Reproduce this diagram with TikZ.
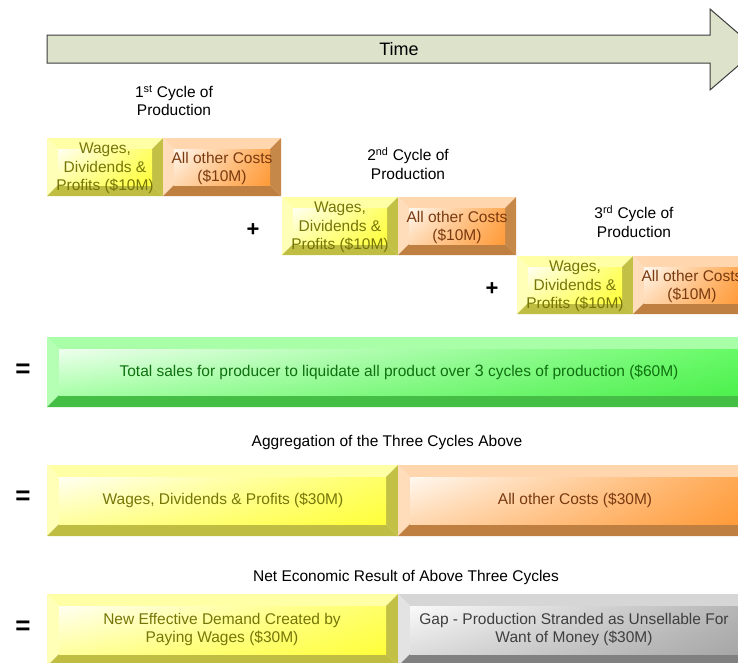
\documentclass[tikz,border=0pt]{standalone}
\usepackage{fontspec}
\setmainfont{Liberation Sans}
\usetikzlibrary{shadings}
\begin{document}
% bevelled block: x1, y1, x2, y2, bevel depth, colour family
\newcommand\bevelbox[6]{%
  \fill[#6top] (#1,#2) -- (#3,#2) -- ({#3-#5},{#2+#5}) -- ({#1+#5},{#2+#5}) -- cycle;
  \fill[#6left] (#1,#2) -- ({#1+#5},{#2+#5}) -- ({#1+#5},{#4-#5}) -- (#1,#4) -- cycle;
  \fill[#6right] (#3,#2) -- (#3,#4) -- ({#3-#5},{#4-#5}) -- ({#3-#5},{#2+#5}) -- cycle;
  \fill[#6bot] (#1,#4) -- ({#1+#5},{#4-#5}) -- ({#3-#5},{#4-#5}) -- (#3,#4) -- cycle;
  \shade[upper left=#6ul, upper right=#6ur, lower left=#6ll, lower right=#6lr]
    ({#1+#5},{#2+#5}) rectangle ({#3-#5},{#4-#5});}
% yellow family
\definecolor{ytop}{HTML}{FFFFA6}\definecolor{yleft}{HTML}{FFFFB8}
\definecolor{yright}{HTML}{C2C045}\definecolor{ybot}{HTML}{BFBD42}
\definecolor{yul}{HTML}{FFFFF2}\definecolor{yur}{HTML}{FFFF66}
\definecolor{yll}{HTML}{FFFF9E}\definecolor{ylr}{HTML}{FFFF3A}
\definecolor{ytext}{HTML}{767608}
% orange family
\definecolor{otop}{HTML}{FFD6AD}\definecolor{oleft}{HTML}{FFDDBB}
\definecolor{oright}{HTML}{C68848}\definecolor{obot}{HTML}{BF7F40}
\definecolor{oul}{HTML}{FFF8F0}\definecolor{our}{HTML}{FFA852}
\definecolor{oll}{HTML}{FFD8B0}\definecolor{olr}{HTML}{FF9A38}
\definecolor{otext}{HTML}{7A3A10}
% green family
\definecolor{gtop}{HTML}{A8FFA8}\definecolor{gleft}{HTML}{B5FFB5}
\definecolor{gright}{HTML}{4CC94C}\definecolor{gbot}{HTML}{44BE44}
\definecolor{gul}{HTML}{EEFFEE}\definecolor{gur}{HTML}{66FA66}
\definecolor{gll}{HTML}{A8FFA8}\definecolor{glr}{HTML}{4DF04D}
\definecolor{gtext}{HTML}{0F700F}
% grey family
\definecolor{rtop}{HTML}{D6D6D6}\definecolor{rleft}{HTML}{E3E3E3}
\definecolor{rright}{HTML}{8C8C8C}\definecolor{rbot}{HTML}{808080}
\definecolor{rul}{HTML}{FAFAFA}\definecolor{rur}{HTML}{B5B5B5}
\definecolor{rll}{HTML}{DCDCDC}\definecolor{rlr}{HTML}{A6A6A6}
\definecolor{rtext}{HTML}{3F3F3F}
\definecolor{timefill}{HTML}{DDE2CB}
\definecolor{timeline}{HTML}{3C3C3C}
\begin{tikzpicture}[x=1pt,y=-1pt,
  lbl/.style={font=\fontsize{15.5}{18.5}\selectfont, align=center, inner sep=0pt, yshift=-1.5pt},
  opsign/.style={font=\fontsize{26}{26}\bfseries\selectfont, inner sep=0pt},
  plussign/.style={font=\fontsize{22}{22}\bfseries\selectfont, inner sep=0pt}]
\useasboundingbox (0,0) rectangle (738,662);
\clip (0,0) rectangle (738,662);

% time arrow
\draw[fill=timefill, draw=timeline, line width=1pt, line join=miter]
  (47,35) -- (710,35) -- (710,9) -- (757,49.5) -- (710,90) -- (710,63) -- (47,63) -- cycle;
\node[lbl, font=\fontsize{18}{20}\selectfont] (time) at (399,48) {Time};

% first cycle
\node[lbl] (lab1) at (174,99) {1\textsuperscript{st} Cycle of\\Production};
\bevelbox{47}{138}{163}{196}{11}{y}
\bevelbox{163}{138}{281}{196}{11}{o}
\node[lbl, text=ytext] (w1) at (105,167) {Wages,\\Dividends \&\\Profits (\$10M)};
\node[lbl, text=otext] (c1) at (222,167) {All other Costs\\(\$10M)};

% second cycle
\node[lbl] (lab2) at (408,162) {2\textsuperscript{nd} Cycle of\\Production};
\node[plussign] (p2) at (253,230) {+};
\bevelbox{282}{197}{398}{255}{11}{y}
\bevelbox{398}{197}{516}{255}{11}{o}
\node[lbl, text=ytext] (w2) at (340,226) {Wages,\\Dividends \&\\Profits (\$10M)};
\node[lbl, text=otext] (c2) at (457,226) {All other Costs\\(\$10M)};

% third cycle
\node[lbl] (lab3) at (634,220) {3\textsuperscript{rd} Cycle of\\Production};
\node[plussign] (p3) at (492,289) {+};
\bevelbox{517}{256}{633}{314}{11}{y}
\bevelbox{633}{256}{751}{314}{11}{o}
\node[lbl, text=ytext] (w3) at (575,285) {Wages,\\Dividends \&\\Profits (\$10M)};
\node[lbl, text=otext] (c3) at (692,285) {All other Costs\\(\$10M)};

% total sales
\node[opsign] (eq1) at (23,371) {=};
\bevelbox{47}{337}{751}{407}{12}{g}
\node[lbl, text=gtext] (total) at (399,371)
  {Total sales for producer to liquidate all product over {\fontsize{16.5}{18.5}\selectfont 3} cycles of production (\$60M)};

% aggregation
\node[lbl] (agg) at (387,441) {Aggregation of the Three Cycles Above};
\node[opsign] (eq2) at (23,498) {=};
\bevelbox{47}{465}{398}{536}{12}{y}
\bevelbox{398}{465}{753}{536}{12}{o}
\node[lbl, text=ytext] (wagg) at (223,499) {Wages, Dividends \& Profits (\$30M)};
\node[lbl, text=otext] (cagg) at (575,499) {All other Costs (\$30M)};

% net result
\node[lbl] (net) at (406,576) {Net Economic Result of Above Three Cycles};
\node[opsign] (eq3) at (23,628) {=};
\bevelbox{47}{594}{398}{666}{12}{y}
\bevelbox{398}{594}{753}{666}{12}{r}
\node[lbl, text=ytext] (demand) at (222,628) {New Effective Demand Created by\\Paying Wages (\$30M)};
\node[lbl, text=rtext] (gap) at (574,628) {Gap - Production Stranded as Unsellable For\\Want of Money (\$30M)};
\end{tikzpicture}
\end{document}
